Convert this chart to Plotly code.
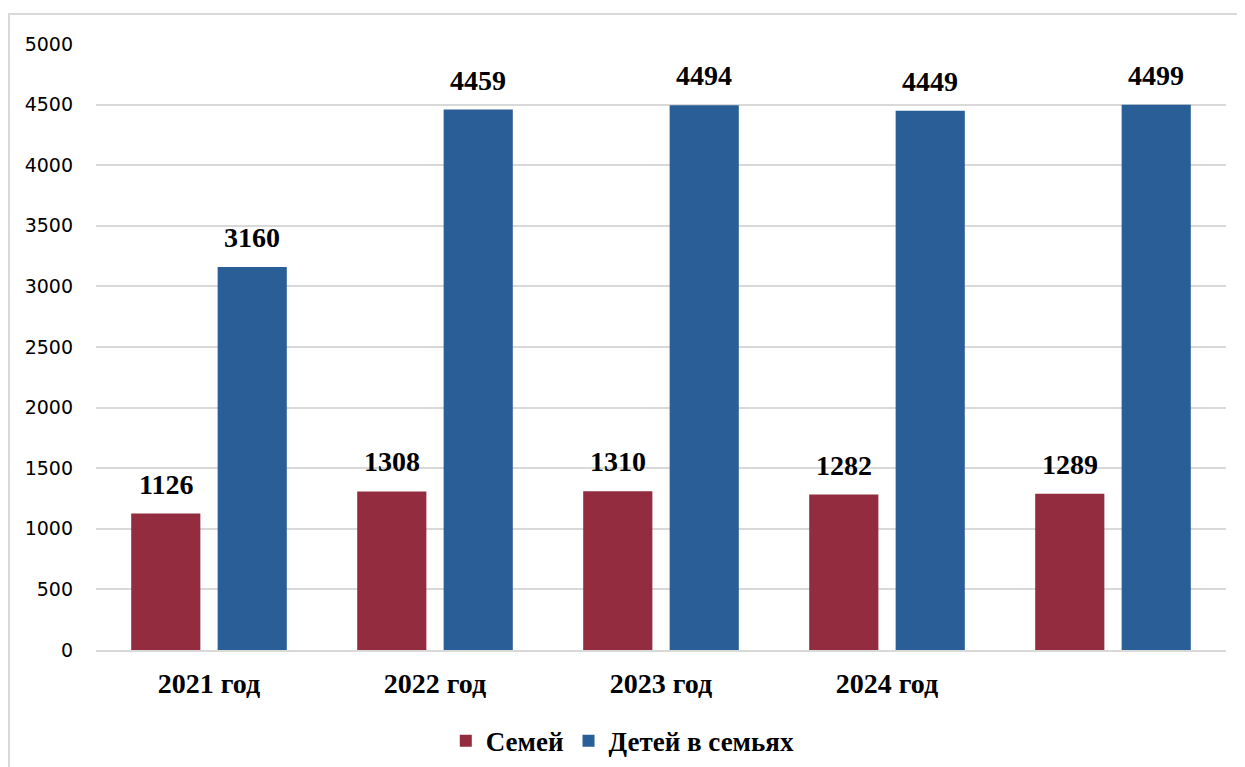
import plotly.graph_objects as go

# Данные
categories = ["2021 год", "2022 год", "2023 год", "2024 год", " "]
semei = [1126, 1308, 1310, 1282, 1289]
deti = [3160, 4459, 4494, 4449, 4499]
y_ticks = [0, 500, 1000, 1500, 2000, 2500, 3000, 3500, 4000, 4500, 5000]

RED = "#922C3E"
BLUE = "#2A5E96"
GRID = "#D9D9D9"
SERIF = "Liberation Serif, Times New Roman, serif"

fig = go.Figure()
fig.add_trace(go.Bar(name="Семей", x=categories, y=semei, marker_color=RED,
                     marker_line_width=0))
fig.add_trace(go.Bar(name="Детей в семьях", x=categories, y=deti, marker_color=BLUE,
                     marker_line_width=0))

# подписи значений над столбцами
for vals, shift in ((semei, -43), (deti, 43)):
    for cat, v in zip(categories, vals):
        fig.add_annotation(x=cat, y=v, text=f"<b>{v}</b>", showarrow=False,
                           xshift=shift, yshift=12, yanchor="bottom",
                           font=dict(family=SERIF, size=28, color="black"))

# рамка вокруг диаграммы
fig.add_shape(type="rect", xref="paper", yref="paper",
              x0=-0.0770, x1=1.2, y0=-0.5, y1=1.0495,
              line=dict(color=GRID, width=2), fillcolor="rgba(0,0,0,0)", layer="below")

fig.update_layout(
    width=1237, height=759,
    margin=dict(l=88, r=19, t=36, b=117),
    plot_bgcolor="white", paper_bgcolor="white",
    barmode="group", bargap=0.235, bargroupgap=0.2,
    showlegend=True,
    legend=dict(orientation="h", x=0.497, xref="container", xanchor="center",
                y=0.034, yref="container", yanchor="middle",
                font=dict(family=SERIF, size=27, color="black"),
                itemwidth=30, tracegroupgap=0),
    yaxis=dict(range=[0, 5000], tickvals=y_ticks, showgrid=True, gridcolor=GRID,
               gridwidth=1.5, zeroline=False, showline=False, automargin=False,
               tickfont=dict(family="DejaVu Sans", size=19, color="black"),
               ticklabelstandoff=22),
    xaxis=dict(showgrid=False, showline=True, linecolor=GRID, linewidth=2,
               automargin=False,
               tickfont=dict(family=SERIF, size=28, color="black"),
               ticklabelstandoff=7, ticks=""),
)
fig.update_layout(legend_font_weight="bold")
fig.update_xaxes(tickfont_weight="bold")

fig.write_html("out.html")
